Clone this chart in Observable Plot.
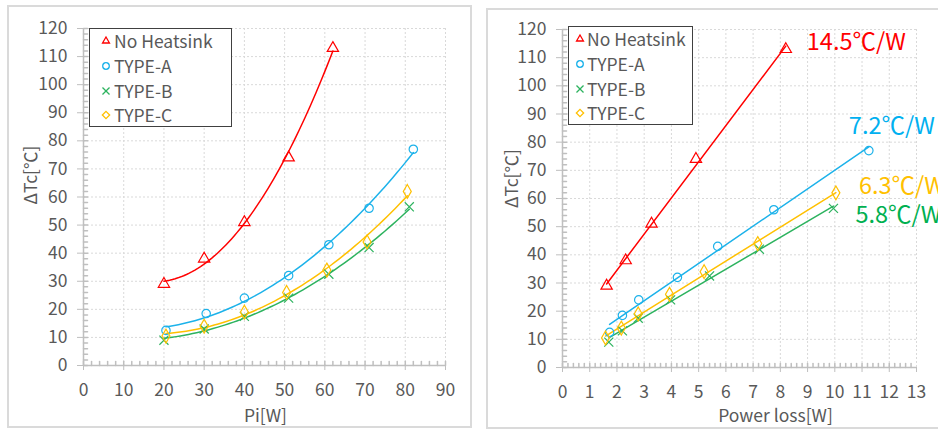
<!DOCTYPE html>
<html><head><meta charset="utf-8">
<script src="https://cdn.jsdelivr.net/npm/d3@7"></script>
<script src="https://cdn.jsdelivr.net/npm/@observablehq/plot@0.6"></script>
<style>
body{margin:0;width:938px;height:430px;overflow:hidden;position:relative;background:#fff;font-family:'Noto Sans CJK JP','Noto Sans',sans-serif;}
.panel{position:absolute;box-sizing:border-box;border:2px solid #dadada;}
.chart{position:absolute;top:0;}
.legend{position:absolute;box-sizing:border-box;border:1.5px solid #404040;background:#fff;}
.row{position:absolute;height:24px;line-height:24px;font-size:17.5px;color:#595959;white-space:nowrap;}
.sym{position:absolute;}
</style></head>
<body>
<div class="panel" style="left:7px;top:5px;width:465px;height:423px"></div>
<div class="panel" style="left:486px;top:8px;width:470px;height:421px"></div>
<div id="left" class="chart" style="left:0px"></div>
<div id="right" class="chart" style="left:478px"></div>
<div id="legL" class="legend" style="left:89px;top:28px;width:143px;height:99px"></div>
<div id="legR" class="legend" style="left:568px;top:26px;width:125px;height:99px"></div>
<script>
const seriesNames = ["No Heatsink", "TYPE-A", "TYPE-B", "TYPE-C"];
const seriesColors = ["#ff0000", "#1cb2ea", "#2db35f", "#ffc000"];
const labelColors = ["#ff0000", "#00b0f0", "#00b050", "#ffc000"];
const seriesSymbols = ["triangle", "circle", "times", "diamond"];

const dtNoHeatsink = [29, 38, 51, 74, 113];
const dtTypeA = [12.5, 18.5, 24, 32, 43, 56, 77];
const dtTypeB = [9, 13, 17.5, 24, 32.5, 42, 56.5];
const dtTypeC = [10.5, 14, 19, 26, 34, 44, 62];

const piNoHeatsink = [20, 30, 40, 51, 62];
const piTypeA = [20.5, 30.5, 40, 51, 61, 71, 82];
const piTypeB = [20, 30, 40, 51, 61, 71, 81];
const piTypeC = [20.5, 30, 40, 50.5, 60.5, 70.5, 80.5];

const lossNoHeatsink = [1.62, 2.32, 3.27, 4.9, 8.2];
const lossTypeA = [1.73, 2.2, 2.8, 4.22, 5.7, 7.76, 11.25];
const lossTypeB = [1.7, 2.2, 2.78, 3.97, 5.4, 7.23, 9.95];
const lossTypeC = [1.58, 2.16, 2.78, 3.93, 5.2, 7.17, 10.04];

const rateLabels = ["14.5℃/W", "7.2℃/W", "5.8℃/W", "6.3℃/W"];

const piTicks = d3.range(0, 91, 10);
const piMinor = d3.range(0, 91, 2);
const lossTicks = d3.range(0, 14, 1);
const lossMinor = d3.range(0, 130, 2).map(v => v / 10);
const dtTicks = d3.range(0, 121, 10);
const dtMinor = d3.range(0, 121, 2);

const xLabelLeft = "Pi[W]";
const xLabelRight = "Power loss[W]";
const yLabel = "ΔTc[℃]";

const FONT = "'Noto Sans CJK JP','Noto Sans',sans-serif";
const TXT = "#595959";
const AXIS = "#bfbfbf";
const GRID = "#d9d9d9";

const dtAll = [dtNoHeatsink, dtTypeA, dtTypeB, dtTypeC];
const piAll = [piNoHeatsink, piTypeA, piTypeB, piTypeC];
const lossAll = [lossNoHeatsink, lossTypeA, lossTypeB, lossTypeC];

function table(xsAll) {
  return seriesNames.flatMap((s, i) => xsAll[i].map((x, j) => ({series: s, x, y: dtAll[i][j]})));
}
const leftData = table(piAll);
const rightData = table(lossAll);

function quadFit(xs, ys) {
  const S = [0, 0, 0, 0, 0], T = [0, 0, 0];
  xs.forEach((x, i) => { for (let k = 0; k < 5; k++) S[k] += x ** k; for (let k = 0; k < 3; k++) T[k] += ys[i] * x ** k; });
  const A = [[S[0], S[1], S[2]], [S[1], S[2], S[3]], [S[2], S[3], S[4]]];
  const det = m => m[0][0]*(m[1][1]*m[2][2]-m[1][2]*m[2][1]) - m[0][1]*(m[1][0]*m[2][2]-m[1][2]*m[2][0]) + m[0][2]*(m[1][0]*m[2][1]-m[1][1]*m[2][0]);
  const D = det(A);
  const c = [0, 1, 2].map(j => det(A.map((row, i) => row.map((v, k) => k === j ? T[i] : v))) / D);
  return x => c[0] + c[1] * x + c[2] * x * x;
}
const leftCurves = seriesNames.flatMap((s, i) => {
  const xs = piAll[i], f = quadFit(xs, dtAll[i]);
  const [a, b] = d3.extent(xs);
  return d3.range(61).map(k => { const x = a + (b - a) * k / 60; return {series: s, x, y: f(x)}; });
});

const tickShape = {draw(ctx, l) { ctx.moveTo(0, 0); ctx.lineTo(0, -l); }};

function frameMarks(xTicks, xMinor) {
  return [
    Plot.gridX(xTicks.filter(v => v > 0), {stroke: GRID, strokeOpacity: 1, strokeDasharray: "2,2"}),
    Plot.gridY(dtTicks.filter(v => v > 0), {stroke: GRID, strokeOpacity: 1, strokeDasharray: "2,2"}),
    Plot.vector(xMinor, {x: d => d, y: 0, length: 4, rotate: 0, anchor: "start", shape: tickShape, stroke: AXIS}),
    Plot.vector(dtMinor, {x: 0, y: d => d, length: 4, rotate: 90, anchor: "start", shape: tickShape, stroke: AXIS}),
    Plot.ruleX([0], {stroke: AXIS, strokeWidth: 1.5}),
    Plot.ruleY([0], {stroke: AXIS, strokeWidth: 1.5}),
    Plot.axisX(xTicks, {label: null, tickSize: 5, tickPadding: 13, stroke: AXIS, fill: TXT, fontSize: 17.5}),
    Plot.axisY(dtTicks, {label: null, tickSize: 6, tickPadding: 10, stroke: AXIS, fill: TXT, fontSize: 17.5})
  ];
}

const scales = {
  color: {domain: seriesNames, range: seriesColors},
  symbol: {domain: seriesNames, range: seriesSymbols}
};

const leftPlot = Plot.plot({
  width: 472, height: 430,
  marginLeft: 83, marginRight: 27, marginTop: 28, marginBottom: 65,
  x: {domain: [0, 90]}, y: {domain: [0, 120]},
  ...scales,
  style: {fontFamily: FONT, fontSize: "17px", background: "transparent", overflow: "visible"},
  marks: [
    ...frameMarks(piTicks, piMinor),
    Plot.line(leftCurves, {x: "x", y: "y", z: "series", stroke: "series", strokeWidth: 1.5, curve: "linear"}),
    Plot.dot(leftData, {x: "x", y: "y", stroke: "series", symbol: "series", r: 4.2, strokeWidth: 1.2, fill: "none"}),
    Plot.text([yLabel], {text: d => d, frameAnchor: "left", rotate: -90, textAnchor: "middle", lineAnchor: "bottom", dx: -47, dy: -22, fill: TXT, fontSize: 17.5}),
    Plot.text([xLabelLeft], {text: d => d, frameAnchor: "bottom", textAnchor: "middle", lineAnchor: "bottom", dx: 1, dy: 56, fill: TXT, fontSize: 17.5})
  ]
});
document.getElementById("left").appendChild(leftPlot);

const lastPoints = seriesNames.map((s, i) => ({series: s, x: lossAll[i][lossAll[i].length - 1], y: dtAll[i][dtAll[i].length - 1], label: rateLabels[i], color: labelColors[i]}));
const labelOffsets = [[21, 1], [-20, -17], [22, 15], [23, 1]];

const rightPlot = Plot.plot({
  width: 460, height: 430,
  marginLeft: 84, marginRight: 22, marginTop: 29, marginBottom: 63,
  x: {domain: [0, 13]}, y: {domain: [0, 120]},
  ...scales,
  style: {fontFamily: FONT, fontSize: "17px", background: "transparent", overflow: "visible"},
  marks: [
    ...frameMarks(lossTicks, lossMinor),
    Plot.linearRegressionY(rightData, {x: "x", y: "y", stroke: "series", ci: 0, strokeWidth: 1.5}),
    Plot.dot(rightData, {x: "x", y: "y", stroke: "series", symbol: "series", r: 4.2, strokeWidth: 1.2, fill: "none"}),
    ...lastPoints.map((p, i) => Plot.text([p], {x: "x", y: "y", text: "label", fill: p.color, fontSize: 23.5, textAnchor: "start", lineAnchor: "bottom", dx: labelOffsets[i][0], dy: labelOffsets[i][1]})),
    Plot.text([yLabel], {text: d => d, frameAnchor: "left", rotate: -90, textAnchor: "middle", lineAnchor: "bottom", dx: -45, dy: -20, fill: TXT, fontSize: 17.5}),
    Plot.text([xLabelRight], {text: d => d, frameAnchor: "bottom", textAnchor: "middle", lineAnchor: "bottom", dx: 36, dy: 54, fill: TXT, fontSize: 17.5})
  ]
});
document.getElementById("right").appendChild(rightPlot);

const d3Sym = {triangle: d3.symbolTriangle2, circle: d3.symbolCircle, times: d3.symbolTimes, diamond: d3.symbolDiamond2};
function legend(id, symX, textX, rowsY) {
  const el = document.getElementById(id);
  seriesNames.forEach((s, i) => {
    const cy = rowsY[i];
    const svg = document.createElementNS("http://www.w3.org/2000/svg", "svg");
    svg.setAttribute("width", 12); svg.setAttribute("height", 12);
    svg.setAttribute("class", "sym");
    svg.style.left = (symX - 6) + "px"; svg.style.top = (cy - 6) + "px";
    const path = document.createElementNS("http://www.w3.org/2000/svg", "path");
    path.setAttribute("d", d3.symbol(d3Sym[seriesSymbols[i]], 34)());
    path.setAttribute("transform", "translate(6,6)");
    path.setAttribute("fill", "none");
    path.setAttribute("stroke", seriesColors[i]);
    path.setAttribute("stroke-width", 1.3);
    svg.appendChild(path);
    el.appendChild(svg);
    const row = document.createElement("div");
    row.className = "row";
    row.style.left = textX + "px"; row.style.top = (cy - 12) + "px";
    row.textContent = s;
    el.appendChild(row);
  });
}
legend("legL", 16, 24, [12, 37, 62, 86]);
legend("legR", 11, 18, [12, 37, 62, 86]);
</script>
</body></html>
